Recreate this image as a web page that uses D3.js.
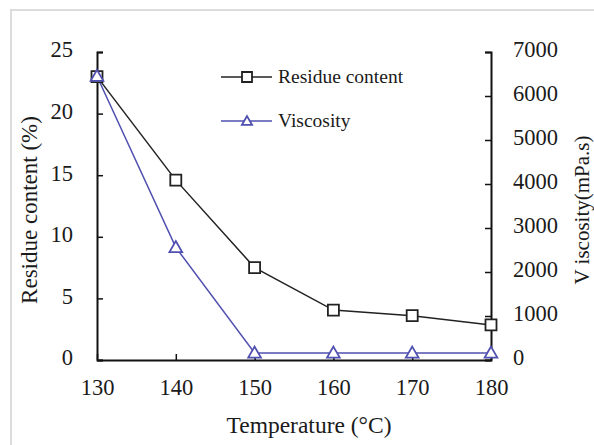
<!DOCTYPE html>
<html><head><meta charset="utf-8">
<script src="https://cdn.jsdelivr.net/npm/d3@7"></script>
<style>body{margin:0;background:#fff}svg{display:block}</style>
</head><body>
<script>
const temperatures = [130, 140, 150, 160, 170, 180];
const residueContent = [23.0, 14.6, 7.5, 4.05, 3.6, 2.85];
const viscosity = [6450, 2560, 160, 160, 160, 160];
const xTicks = [130, 140, 150, 160, 170, 180];
const leftTicks = [0, 5, 10, 15, 20, 25];
const rightTicks = [0, 1000, 2000, 3000, 4000, 5000, 6000, 7000];
const seriesNames = ["Residue content", "Viscosity"];

const W = 594, H = 445;
const svg = d3.select("body").append("svg").attr("width", W).attr("height", H);
const font = "'Liberation Serif','Times New Roman',serif";

svg.append("rect").attr("x", 11).attr("y", 10).attr("width", 620).attr("height", 470)
  .attr("fill", "none").attr("stroke", "#dcdcdc").attr("stroke-width", 2);

const x = d3.scaleLinear().domain([130, 180]).range([97, 491]);
const yL = d3.scaleLinear().domain([0, 25]).range([360, 52]);
const yR = d3.scaleLinear().domain([0, 7000]).range([360, 52]);

function styleAxis(g, size) {
  g.selectAll("path.domain").attr("stroke", "#111").attr("stroke-width", 2);
  g.selectAll(".tick line").attr("stroke", "#111").attr("stroke-width", 1.5);
  g.selectAll("text").attr("font-family", font).attr("font-size", size).attr("fill", "#1a1a1a");
}

const gx = svg.append("g").attr("transform", "translate(0,360)")
  .call(d3.axisBottom(x).tickValues(xTicks).tickSizeInner(-6).tickSizeOuter(0).tickPadding(19).tickFormat(d3.format("d")));
styleAxis(gx, 22.5);

const gl = svg.append("g").attr("transform", "translate(97,0)")
  .call(d3.axisLeft(yL).tickValues(leftTicks).tickSizeInner(-6).tickSizeOuter(-6).tickPadding(24).tickFormat(d3.format("d")));
styleAxis(gl, 22.5);
gl.selectAll("text").attr("dy", "0.22em");

const gr = svg.append("g").attr("transform", "translate(491,0)")
  .call(d3.axisRight(yR).tickValues(rightTicks).tickSizeInner(-6).tickSizeOuter(-6).tickPadding(22).tickFormat(d3.format("d")));
styleAxis(gr, 22.5);
gr.selectAll("text").attr("dy", "0.22em");

// titles
svg.append("text").attr("x", 309).attr("y", 433).attr("text-anchor", "middle")
  .attr("font-family", font).attr("font-size", 23.5).attr("fill", "#1a1a1a").text("Temperature (°C)");
svg.append("text").attr("transform", "translate(37,210) rotate(-90)").attr("text-anchor", "middle")
  .attr("font-family", font).attr("font-size", 23).attr("fill", "#1a1a1a").text("Residue content (%)");
svg.append("text").attr("transform", "translate(589,210) rotate(-90)").attr("text-anchor", "middle")
  .attr("font-family", font).attr("font-size", 21).attr("fill", "#1a1a1a").text("V iscosity(mPa.s)");

const blue = "#5050b0";
const dark = "#222";
const resData = temperatures.map((t, i) => ({ t, v: residueContent[i] }));
const visData = temperatures.map((t, i) => ({ t, v: viscosity[i] }));

svg.append("path").datum(resData).attr("fill", "none").attr("stroke", dark).attr("stroke-width", 1.5)
  .attr("d", d3.line().x(d => x(d.t)).y(d => yL(d.v)));
svg.append("path").datum(visData).attr("fill", "none").attr("stroke", blue).attr("stroke-width", 1.5)
  .attr("d", d3.line().x(d => x(d.t)).y(d => yR(d.v)));

const sq = d3.symbol().type(d3.symbolSquare).size(121);
const tri = d3.symbol().type(d3.symbolTriangle).size(70);

svg.selectAll(".sq").data(resData).join("path").attr("class", "sq")
  .attr("transform", d => `translate(${x(d.t)},${yL(d.v)})`).attr("d", sq)
  .attr("fill", "#fff").attr("stroke", dark).attr("stroke-width", 1.8);
svg.selectAll(".tri").data(visData).join("path").attr("class", "tri")
  .attr("transform", d => `translate(${x(d.t)},${yR(d.v) + 1})`).attr("d", tri)
  .attr("fill", "#fff").attr("stroke", blue).attr("stroke-width", 1.8);

// legend
const legY = [77, 121];
const legColors = [dark, blue];
seriesNames.forEach((name, i) => {
  const g = svg.append("g");
  g.append("line").attr("x1", 221).attr("x2", 272).attr("y1", legY[i]).attr("y2", legY[i])
    .attr("stroke", legColors[i]).attr("stroke-width", 1.5);
  g.append("path").attr("transform", `translate(247,${legY[i] + (i ? 1 : 0)})`)
    .attr("d", i ? d3.symbol().type(d3.symbolTriangle).size(45)() : d3.symbol().type(d3.symbolSquare).size(100)())
    .attr("fill", "#fff").attr("stroke", legColors[i]).attr("stroke-width", 1.8);
  g.append("text").attr("x", 278).attr("y", legY[i] + 6).attr("font-family", font).attr("font-size", 19.5)
    .attr("fill", "#1a1a1a").text(name);
});
</script>
</body></html>
